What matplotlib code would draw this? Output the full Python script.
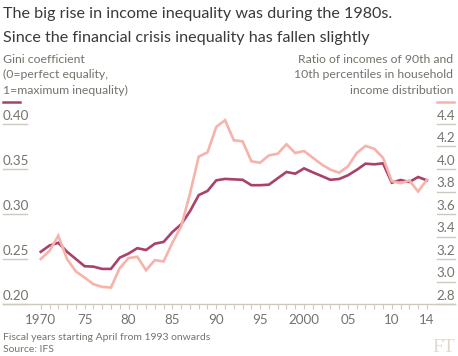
import matplotlib
matplotlib.use("Agg")
import matplotlib.pyplot as plt
import matplotlib.transforms as mtransforms

# data (IFS figures)
years = list(range(1970, 2015))
gini = [0.258, 0.265, 0.268, 0.258, 0.250, 0.242, 0.2415, 0.239, 0.239, 0.2515,
        0.256, 0.262, 0.260, 0.267, 0.269, 0.280, 0.2885, 0.303, 0.321, 0.3256,
        0.3374, 0.339, 0.3385, 0.338, 0.332, 0.332, 0.3326, 0.3397, 0.3467, 0.3448,
        0.3507, 0.3463, 0.3422, 0.338, 0.3389, 0.343, 0.349, 0.3559, 0.3552, 0.3563,
        0.3348, 0.3378, 0.3356, 0.3411, 0.3374]
ratio_90_10 = [3.20, 3.273, 3.407, 3.199, 3.089, 3.035, 2.976, 2.952, 2.946, 3.119,
               3.208, 3.22, 3.10, 3.19, 3.178, 3.345, 3.49, 3.78, 4.11, 4.148,
               4.374, 4.434, 4.255, 4.246, 4.068, 4.056, 4.121, 4.136, 4.22, 4.142,
               4.16, 4.10, 4.041, 3.994, 3.967, 4.023, 4.142, 4.205, 4.18, 4.10,
               3.892, 3.874, 3.898, 3.80, 3.904]

gini_ticks = [0.20, 0.25, 0.30, 0.35, 0.40]
ratio_ticks = [2.8, 3.0, 3.2, 3.4, 3.6, 3.8, 4.0, 4.2, 4.4]
x_label_years = [1970, 1975, 1980, 1985, 1990, 1995, 2000, 2005, 2010, 2014]
x_labels = ["1970", "75", "80", "85", "90", "95", "2000", "05", "10", "14"]

DARK = "#a9416a"
LIGHT = "#f7b3ab"
TEXT = "#74736c"
GRID = "#cfc8bd"

plt.rcParams["font.family"] = ["Lato", "DejaVu Sans"]

fig = plt.figure(figsize=(4.58, 3.56), dpi=100)
fig.patch.set_facecolor("white")
ax = fig.add_axes([3 / 458, 1 - 304 / 356, 452 / 458, 189 / 356])
ax2 = ax.twinx()

ax.set_xlim(1965.7, 2017.2)
ax.set_ylim(0.20, 0.41)
ax2.set_ylim(2.8, 2.8 + (0.41 - 0.20) * 8)

ax.plot(years, gini, color=DARK, lw=1.9, solid_joinstyle="miter")
ax2.plot(years, ratio_90_10, color=LIGHT, lw=1.9, solid_joinstyle="miter")

for a in (ax, ax2):
    for s in a.spines.values():
        s.set_visible(False)
    a.set_yticks([])
    a.patch.set_visible(False)
ax.spines["bottom"].set_visible(True)
ax.spines["bottom"].set_color(GRID)
ax.spines["bottom"].set_linewidth(1)

ax.set_xticks(years, minor=True)
ax.set_xticks(x_label_years)
ax.set_xticklabels(x_labels)
ax.tick_params(axis="x", which="both", length=3.5, width=0.8, color=GRID,
               direction="out")
ax.tick_params(axis="x", which="major", labelsize=9.6, labelcolor=TEXT, pad=4)

# y labels sitting on short rules, FT style
tl = mtransforms.blended_transform_factory(ax.transAxes, ax.transData)
tr = mtransforms.blended_transform_factory(ax2.transAxes, ax2.transData)
for v in gini_ticks:
    ax.plot([0, 0.053], [v, v], transform=tl, color=GRID, lw=1, clip_on=False)
    ax.annotate(f"{v:.2f}", (0, v), xycoords=tl, xytext=(0, 1.5),
                textcoords="offset points", ha="left", va="bottom",
                fontsize=9.6, color=TEXT)
for v in ratio_ticks:
    ax2.plot([0.96, 1], [v, v], transform=tr, color=GRID, lw=1, clip_on=False)
    ax2.annotate(f"{v:.1f}", (1, v), xycoords=tr, xytext=(0, 1.5),
                 textcoords="offset points", ha="right", va="bottom",
                 fontsize=9.6, color=TEXT)

fig.text(3 / 458, 1 - 18 / 356, "The big rise in income inequality was during the 1980s.",
         fontsize=11.6, color="#3a3a38", va="baseline", ha="left")
fig.text(3 / 458, 1 - 42 / 356, "Since the financial crisis inequality has fallen slightly",
         fontsize=11.6, color="#3a3a38", va="baseline", ha="left")

left_sub = ["Gini coefficient", "(0=perfect equality,", "1=maximum inequality)"]
right_sub = ["Ratio of incomes of 90th and", "10th percentiles in household",
             "income distribution"]
for i, (ls, rs) in enumerate(zip(left_sub, right_sub)):
    yb = 1 - (63 + 15.5 * i) / 356
    fig.text(3 / 458, yb, ls, fontsize=8.8, color=TEXT, va="baseline", ha="left")
    fig.text(453 / 458, yb, rs, fontsize=8.8, color=TEXT, va="baseline", ha="right")

fig.add_artist(plt.Line2D([3 / 458, 20 / 458], [1 - 102 / 356] * 2, color=DARK, lw=1.8))
fig.add_artist(plt.Line2D([437 / 458, 454 / 458], [1 - 102 / 356] * 2, color=LIGHT, lw=1.8))

fig.text(3 / 458, 1 - 340 / 356, "Fiscal years starting April from 1993 onwards",
         fontsize=7.5, color=TEXT, va="baseline", ha="left")
fig.text(3 / 458, 1 - 352 / 356, "Source: IFS", fontsize=7.5, color=TEXT,
         va="baseline", ha="left")
fig.text(455 / 458, 1 - 352 / 356, "FT", fontsize=14, color="#e3d8cc",
         family="Liberation Serif", va="baseline", ha="right")

fig.savefig("out.png", dpi=100, facecolor="white")
